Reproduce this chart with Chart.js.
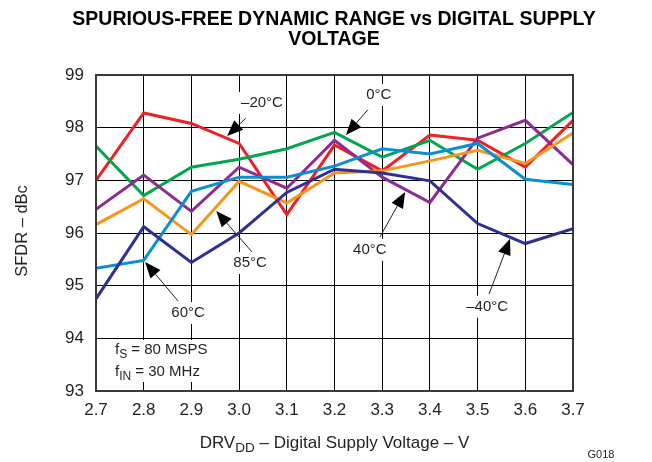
<!DOCTYPE html>
<html>
<head>
<meta charset="utf-8">
<script src="https://cdn.jsdelivr.net/npm/chart.js@4.4.1/dist/chart.umd.min.js"></script>
<style>
  html, body { margin: 0; padding: 0; background: #fff; }
  #wrap { position: relative; width: 652px; height: 462px; }
</style>
</head>
<body>
<div id="wrap"><canvas id="sfdr-chart"></canvas></div>
<script>
// supply voltages (V)
const voltages = [2.7, 2.8, 2.9, 3.0, 3.1, 3.2, 3.3, 3.4, 3.5, 3.6, 3.7];

// SFDR in dBc per temperature
const sfdrM20 = [97.0, 98.28, 98.08, 97.7, 96.35, 97.67, 97.18, 97.86, 97.76, 97.25, 98.14];
const sfdr0   = [97.65, 96.71, 97.25, 97.4, 97.6, 97.91, 97.44, 97.76, 97.21, 97.7, 98.29];
const sfdr40  = [96.45, 97.1, 96.41, 97.25, 96.85, 97.76, 97.06, 96.58, 97.8, 98.14, 97.3];
const sfdr85  = [96.16, 96.65, 95.97, 96.98, 96.57, 97.14, 97.18, 97.37, 97.57, 97.32, 97.9];
const sfdr60  = [95.33, 95.48, 96.79, 97.06, 97.06, 97.27, 97.6, 97.5, 97.7, 97.02, 96.92];
const sfdrM40 = [94.75, 96.12, 95.44, 96.0, 96.77, 97.21, 97.14, 96.99, 96.18, 95.8, 96.08];

const yTicks = [93, 94, 95, 96, 97, 98, 99];

// temperature callouts: label position, arrow tail, arrow tip (data units)
const callouts = [
  { text: "–20°C", at: [3.048, 98.47], from: [3.014, 98.18], to: [2.975, 97.84] },
  { text: "0°C",   at: [3.293, 98.62], from: [3.270, 98.34], to: [3.224, 97.86] },
  { text: "40°C",  at: [3.274, 95.68], from: [3.295, 95.92], to: [3.348, 96.78] },
  { text: "85°C",  at: [3.023, 95.43], from: [3.027, 95.64], to: [2.952, 96.42] },
  { text: "60°C",  at: [2.893, 94.48], from: [2.872, 94.71], to: [2.803, 95.45] },
  { text: "–40°C", at: [3.520, 94.60], from: [3.524, 94.84], to: [3.568, 95.89] }
];

const FONT = "'Liberation Sans', Arial, sans-serif";
const INK = "#231f20";

function pts(vals) {
  return vals.map((v, i) => ({ x: voltages[i], y: v }));
}

function series(label, vals, color) {
  return {
    label: label,
    data: pts(vals),
    borderColor: color,
    backgroundColor: color,
    borderWidth: 3,
    pointRadius: 0,
    tension: 0,
    fill: false
  };
}

// text with a subscript part, e.g. f + S
function subText(ctx, parts, x, y, size, align) {
  let total = 0;
  ctx.save();
  ctx.textAlign = "left";
  parts.forEach(p => {
    ctx.font = (p.sub ? size * 0.8 : size) + "px " + FONT;
    p.w = ctx.measureText(p.t).width;
    total += p.w;
  });
  let cx = align === "center" ? x - total / 2 : x;
  parts.forEach(p => {
    ctx.font = (p.sub ? size * 0.8 : size) + "px " + FONT;
    ctx.fillText(p.t, cx, p.sub ? y + size * 0.3 : y);
    cx += p.w;
  });
  ctx.restore();
  return total;
}

const decorations = {
  id: "decorations",
  afterDatasetsDraw(chart) {
    const ctx = chart.ctx;
    const xs = chart.scales.x, ys = chart.scales.y;
    const a = chart.chartArea;
    ctx.save();

    // frame
    ctx.strokeStyle = "#3a3a3a";
    ctx.lineWidth = 2;
    ctx.strokeRect(a.left, a.top, a.right - a.left, a.bottom - a.top);

    // callouts
    ctx.textBaseline = "middle";
    ctx.textAlign = "center";
    ctx.font = "15px " + FONT;
    callouts.forEach(c => {
      const tx = xs.getPixelForValue(c.at[0]), ty = ys.getPixelForValue(c.at[1]);
      const w = ctx.measureText(c.text).width;
      ctx.fillStyle = "#fff";
      ctx.fillRect(tx - w / 2 - 3, ty - 11, w + 6, 22);
      ctx.fillStyle = INK;
      ctx.fillText(c.text, tx, ty);

      const x0 = xs.getPixelForValue(c.from[0]), y0 = ys.getPixelForValue(c.from[1]);
      const x1 = xs.getPixelForValue(c.to[0]), y1 = ys.getPixelForValue(c.to[1]);
      const ang = Math.atan2(y1 - y0, x1 - x0);
      const hl = 16, hw = 6.5;
      const bx = x1 - hl * Math.cos(ang), by = y1 - hl * Math.sin(ang);
      ctx.strokeStyle = INK;
      ctx.lineWidth = 1;
      ctx.beginPath();
      ctx.moveTo(x0, y0);
      ctx.lineTo(bx, by);
      ctx.stroke();
      ctx.fillStyle = "#000";
      ctx.beginPath();
      ctx.moveTo(x1, y1);
      ctx.lineTo(bx + hw * Math.sin(ang), by - hw * Math.cos(ang));
      ctx.lineTo(bx - hw * Math.sin(ang), by + hw * Math.cos(ang));
      ctx.closePath();
      ctx.fill();
    });

    // test conditions box
    ctx.fillStyle = "#fff";
    ctx.fillRect(a.left + 14, 340, 110, 42);
    ctx.fillStyle = INK;
    subText(ctx, [{ t: "f" }, { t: "S", sub: true }, { t: " = 80 MSPS" }], a.left + 19, 350, 15);
    subText(ctx, [{ t: "f" }, { t: "IN", sub: true }, { t: " = 30 MHz" }], a.left + 19, 372, 15);

    // title
    ctx.textAlign = "center";
    ctx.font = "bold 19.5px " + FONT;
    ctx.fillStyle = "#000";
    ctx.fillText("SPURIOUS-FREE DYNAMIC RANGE vs DIGITAL SUPPLY", 334, 20);
    ctx.fillText("VOLTAGE", 334, 40);

    // axis titles
    ctx.fillStyle = INK;
    ctx.font = "16.5px " + FONT;
    ctx.save();
    ctx.translate(22, 231);
    ctx.rotate(-Math.PI / 2);
    ctx.fillText("SFDR – dBc", 0, 0);
    ctx.restore();
    subText(ctx, [{ t: "DRV" }, { t: "DD", sub: true }, { t: " – Digital Supply Voltage – V" }],
      (a.left + a.right) / 2, 443, 17, "center");

    ctx.font = "11px " + FONT;
    ctx.textAlign = "center";
    ctx.fillText("G018", 601, 455);
    ctx.restore();
  }
};

const config = {
  type: "line",
  data: {
    datasets: [
      series("-40°C", sfdrM40, "#2e3192"),
      series("60°C", sfdr60, "#0a8fd6"),
      series("85°C", sfdr85, "#f7961e"),
      series("40°C", sfdr40, "#8e2a91"),
      series("0°C", sfdr0, "#00a650"),
      series("-20°C", sfdrM20, "#ee2024")
    ]
  },
  options: {
    responsive: false,
    animation: false,
    layout: { padding: { top: 75, right: 79, left: 0, bottom: 0 } },
    plugins: {
      legend: { display: false },
      title: { display: false },
      tooltip: { enabled: false }
    },
    scales: {
      x: {
        type: "linear",
        min: 2.7,
        max: 3.7,
        afterFit: s => { s.height = 71; },
        afterBuildTicks: s => { s.ticks = voltages.map(v => ({ value: v })); },
        ticks: {
          padding: 9,
          color: INK,
          font: { family: FONT, size: 17 },
          callback: v => Number(v).toFixed(1)
        },
        grid: { color: "#000", lineWidth: 1, drawTicks: false },
        border: { display: false }
      },
      y: {
        min: 93,
        max: 99,
        afterFit: s => { s.width = 96; },
        afterBuildTicks: s => { s.ticks = yTicks.map(v => ({ value: v })); },
        ticks: {
          padding: 12,
          color: INK,
          font: { family: FONT, size: 17 }
        },
        grid: { color: "#000", lineWidth: 1, drawTicks: false },
        border: { display: false }
      }
    }
  },
  plugins: [decorations]
};

const canvas = document.getElementById("sfdr-chart");
canvas.width = 652;
canvas.height = 462;
new Chart(canvas.getContext("2d"), config);
</script>
</body>
</html>
